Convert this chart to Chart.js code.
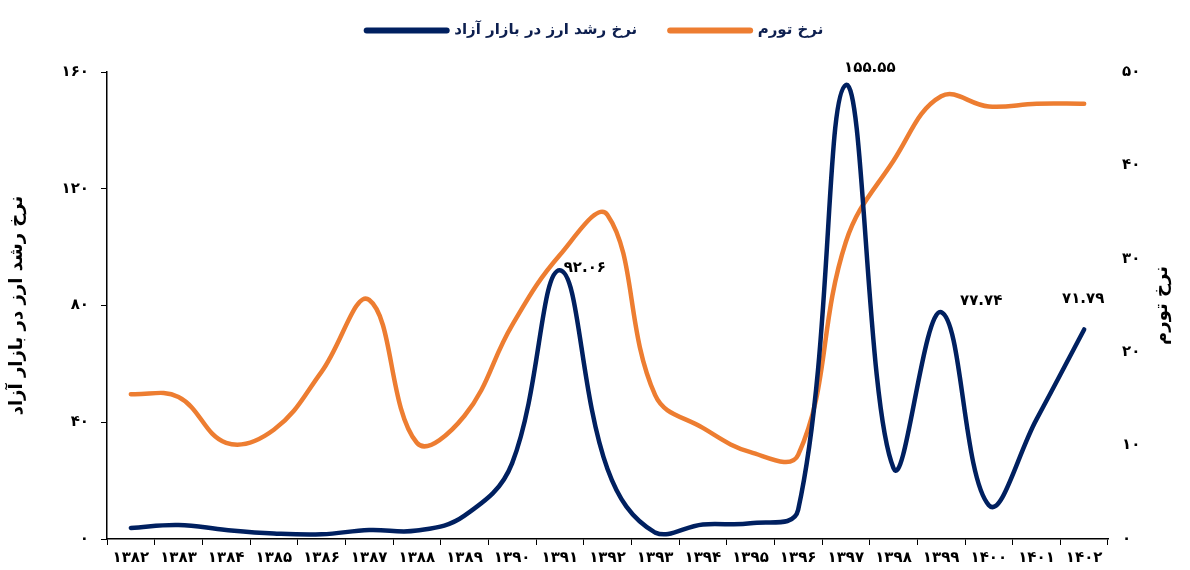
<!DOCTYPE html>
<html lang="fa">
<head>
<meta charset="utf-8">
<title>نرخ رشد ارز و نرخ تورم</title>
<script src="https://cdn.jsdelivr.net/npm/chart.js@4.4.1/dist/chart.umd.min.js"></script>
<style>
  html, body { margin: 0; padding: 0; background: #ffffff; }
  #wrap { width: 1190px; height: 570px; position: relative; }
</style>
</head>
<body>
<div id="wrap"><canvas id="chart" width="1190" height="570"></canvas></div>
<script>
// Years (Solar Hijri)
const years = ['1382','1383','1384','1385','1386','1387','1388','1389','1390','1391','1392',
               '1393','1394','1395','1396','1397','1398','1399','1400','1401','1402'];

// Free-market currency growth rate (%)
const currencyGrowth = [3.8, 4.8, 3.1, 1.9, 1.6, 3.1, 2.9, 8.0, 26.0, 92.06, 24.0,
                        2.2, 5.0, 5.4, 10.0, 155.55, 24.3, 77.74, 11.6, 41.0, 71.79];

// Inflation rate (%)
const inflation = [15.5, 15.2, 10.3, 11.7, 17.9, 25.6, 10.3, 13.2, 22.9, 30.4, 34.7,
                   15.4, 11.9, 9.3, 9.0, 31.8, 40.5, 47.4, 46.3, 46.6, 46.6];

// Axis tick values
const leftTicks = [0, 40, 80, 120, 160];
const rightTicks = [0, 10, 20, 30, 40, 50];

// Points of the currency series that carry a value label
const labelledYears = ['1391', '1397', '1399', '1402'];

const FONT = '"DejaVu Sans", sans-serif';
const NAVY = '#002060';
const ORANGE = '#ED7D31';

const faDigits = '۰۱۲۳۴۵۶۷۸۹';
function toFa(s) { return String(s).replace(/[0-9]/g, d => faDigits[d]); }

// label placement relative to its point
const labelPlacement = {
  '1391': { dx: 25, dy: -2 },
  '1397': { dx: 24, dy: -17 },
  '1399': { dx: 40, dy: -11 },
  '1402': { dx: -1, dy: -30 }
};

const valueLabels = {
  id: 'valueLabels',
  afterDatasetsDraw(chart) {
    const ctx = chart.ctx;
    const meta = chart.getDatasetMeta(0);
    ctx.save();
    ctx.font = 'bold 15px ' + FONT;
    ctx.fillStyle = '#000000';
    ctx.textAlign = 'center';
    ctx.textBaseline = 'middle';
    labelledYears.forEach(year => {
      const i = years.indexOf(year);
      const pt = meta.data[i];
      const p = labelPlacement[year];
      ctx.fillText(toFa(currencyGrowth[i].toFixed(2)), pt.x + p.dx, pt.y + p.dy);
    });
    ctx.restore();
  }
};

// right-hand axis title, read bottom-to-top like the left one
const rightTitle = {
  id: 'rightTitle',
  afterDraw(chart) {
    const ctx = chart.ctx;
    const area = chart.chartArea;
    ctx.save();
    ctx.translate(1162, (area.top + area.bottom) / 2);
    ctx.rotate(-Math.PI / 2);
    ctx.font = 'bold 18px ' + FONT;
    ctx.fillStyle = '#000000';
    ctx.textAlign = 'center';
    ctx.textBaseline = 'middle';
    ctx.fillText('نرخ تورم', 0, 0);
    ctx.restore();
  }
};

// fixed legend band height, items lifted toward the top edge
const legendBand = {
  id: 'legendBand',
  afterInit(chart) {
    const lg = chart.legend;
    const fit = lg.fit;
    lg.fit = function () { fit.call(this); this.height = 72; };
    const draw = lg.draw;
    lg.draw = function () {
      const ctx = this.ctx;
      ctx.save();
      ctx.translate(0, -10);
      draw.call(this);
      ctx.restore();
    };
  }
};

new Chart(document.getElementById('chart'), {
  type: 'line',
  data: {
    labels: years,
    datasets: [
      {
        label: 'نرخ رشد ارز در بازار آزاد',
        data: currencyGrowth,
        yAxisID: 'y',
        borderColor: NAVY,
        backgroundColor: NAVY,
        borderWidth: 4.5,
        borderCapStyle: 'round',
        pointRadius: 0,
        tension: 0.4,
        fill: false
      },
      {
        label: 'نرخ تورم',
        data: inflation,
        yAxisID: 'y2',
        borderColor: ORANGE,
        backgroundColor: ORANGE,
        borderWidth: 4.5,
        borderCapStyle: 'round',
        pointRadius: 0,
        tension: 0.4,
        fill: false
      }
    ]
  },
  options: {
    responsive: false,
    animation: false,
    layout: { padding: 0 },
    plugins: {
      legend: {
        position: 'top',
        labels: {
          usePointStyle: true,
          pointStyle: 'line',
          pointStyleWidth: 80,
          padding: 33,
          color: '#0d1f4f',
          font: { family: FONT, size: 15, weight: 'bold' },
          generateLabels(chart) {
            const items = Chart.defaults.plugins.legend.labels.generateLabels(chart);
            items.forEach(it => { it.lineWidth = 6; it.lineCap = 'round'; });
            return items;
          }
        }
      },
      tooltip: { enabled: false }
    },
    scales: {
      x: {
        type: 'category',
        offset: true,
        grid: {
          offset: true,
          drawOnChartArea: false,
          drawTicks: true,
          tickLength: 6,
          color: '#000000'
        },
        border: { display: true, color: '#000000', width: 1.5 },
        ticks: {
          color: '#000000',
          padding: 4,
          maxRotation: 0,
          autoSkip: false,
          font: { family: FONT, size: 15, weight: 'bold' },
          callback: function (v, i) { return toFa(years[i]); }
        },
        afterFit(s) { s.height = 31; }
      },
      y: {
        position: 'left',
        min: 0,
        max: 160,
        afterBuildTicks(s) { s.ticks = leftTicks.map(v => ({ value: v })); },
        grid: {
          drawOnChartArea: false,
          drawTicks: true,
          tickLength: 6,
          color: '#000000'
        },
        border: { display: true, color: '#000000', width: 1.5 },
        ticks: {
          color: '#000000',
          padding: 12,
          font: { family: FONT, size: 15, weight: 'bold' },
          callback: v => toFa(v)
        },
        title: {
          display: true,
          text: 'نرخ رشد ارز در بازار آزاد',
          color: '#000000',
          font: { family: FONT, size: 18, weight: 'bold' },
          padding: { top: 7, bottom: 0 }
        },
        afterFit(s) { s.width = 107; }
      },
      y2: {
        position: 'right',
        min: 0,
        max: 50,
        afterBuildTicks(s) { s.ticks = rightTicks.map(v => ({ value: v })); },
        grid: { display: false, drawTicks: false },
        border: { display: false },
        ticks: {
          color: '#000000',
          padding: 14,
          font: { family: FONT, size: 15, weight: 'bold' },
          callback: v => toFa(v)
        },
        afterFit(s) { s.width = 82; }
      }
    }
  },
  plugins: [legendBand, valueLabels, rightTitle]
});
</script>
</body>
</html>
